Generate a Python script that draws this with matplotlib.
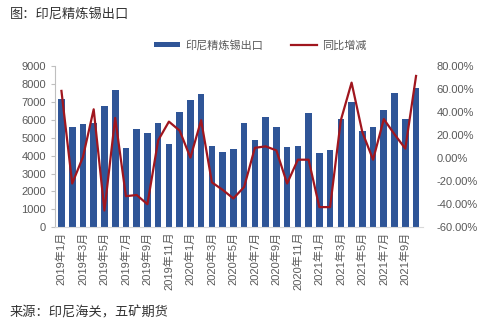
import matplotlib.pyplot as plt
import numpy as np

plt.rcParams['font.family'] = ['Liberation Sans', 'Noto Sans CJK SC']

# Monthly refined tin exports (tonnes) and YoY change (%), 2019-01 .. 2021-10
months = [f'{y}年{m}月' for y in (2019, 2020, 2021) for m in range(1, 13)][:34]
exports = [7150, 5600, 5750, 5850, 6800, 7650, 4400, 5500, 5250, 5850, 4650, 6450,
           7100, 7450, 4550, 4200, 4350, 5800, 4850, 6150, 5600, 4500, 4550, 6400,
           4150, 4300, 6050, 7000, 5350, 5600, 6550, 7500, 6050, 7800]
yoy = [58.5, -22, 1, 42.5, -45.5, 35, -33, -32, -40, 15.5, 31.8, 24,
       0.5, 33, -21, -27.5, -35, -25, 9, 10.3, 6.8, -22, -1.3, -1.3,
       -42.5, -42.5, 33, 65.7, 22.7, -1.3, 34, 20.7, 8.3, 71.5]

bar_color = '#2F5597'
line_color = '#A0161E'
grey = '#595959'

fig = plt.figure(figsize=(5, 3.26), dpi=100)
ax = fig.add_axes([0.11, 0.303, 0.735, 0.494])
x = np.arange(len(months))

ax.bar(x, exports, width=0.62, color=bar_color, label='印尼精炼锡出口')
ax.set_ylim(0, 9000)
ax.set_yticks(range(0, 9001, 1000))
ax.set_xlim(-0.6, len(months) - 0.4)
ax.set_xticks(x[::2])
ax.set_xticklabels(months[::2], rotation=90, fontsize=8, color=grey)
ax.tick_params(axis='y', labelsize=8, colors=grey, length=3, color='#BFBFBF')
ax.tick_params(axis='x', length=0, pad=3)
for s in ['top', 'right']:
    ax.spines[s].set_visible(False)
ax.spines['left'].set_color('#BFBFBF')
ax.spines['bottom'].set_color('#D9D9D9')

ax2 = ax.twinx()
ax2.plot(x, yoy, color=line_color, lw=1.6, label='同比增减')
ax2.set_ylim(-60, 80)
ax2.set_yticks(range(-60, 81, 20))
ax2.set_yticklabels([f'{v:.2f}%' for v in range(-60, 81, 20)])
ax2.tick_params(axis='y', labelsize=8, colors=grey, length=0, pad=10)
for s in ['top', 'right', 'left', 'bottom']:
    ax2.spines[s].set_visible(False)

h1, l1 = ax.get_legend_handles_labels()
h2, l2 = ax2.get_legend_handles_labels()
fig.legend(h1 + h2, l1 + l2, loc='center', bbox_to_anchor=(0.52, 0.862), ncol=2,
           frameon=False, fontsize=8, handlelength=2.4, handleheight=0.4,
           columnspacing=2.5, handletextpad=0.4, labelcolor=grey)

fig.text(0.02, 0.955, '图：印尼精炼锡出口', fontsize=9.5, color='#333333', va='center')
fig.text(0.02, 0.04, '来源：印尼海关，五矿期货', fontsize=9.5, color='#333333', va='center')

fig.savefig('out.png', dpi=100)
